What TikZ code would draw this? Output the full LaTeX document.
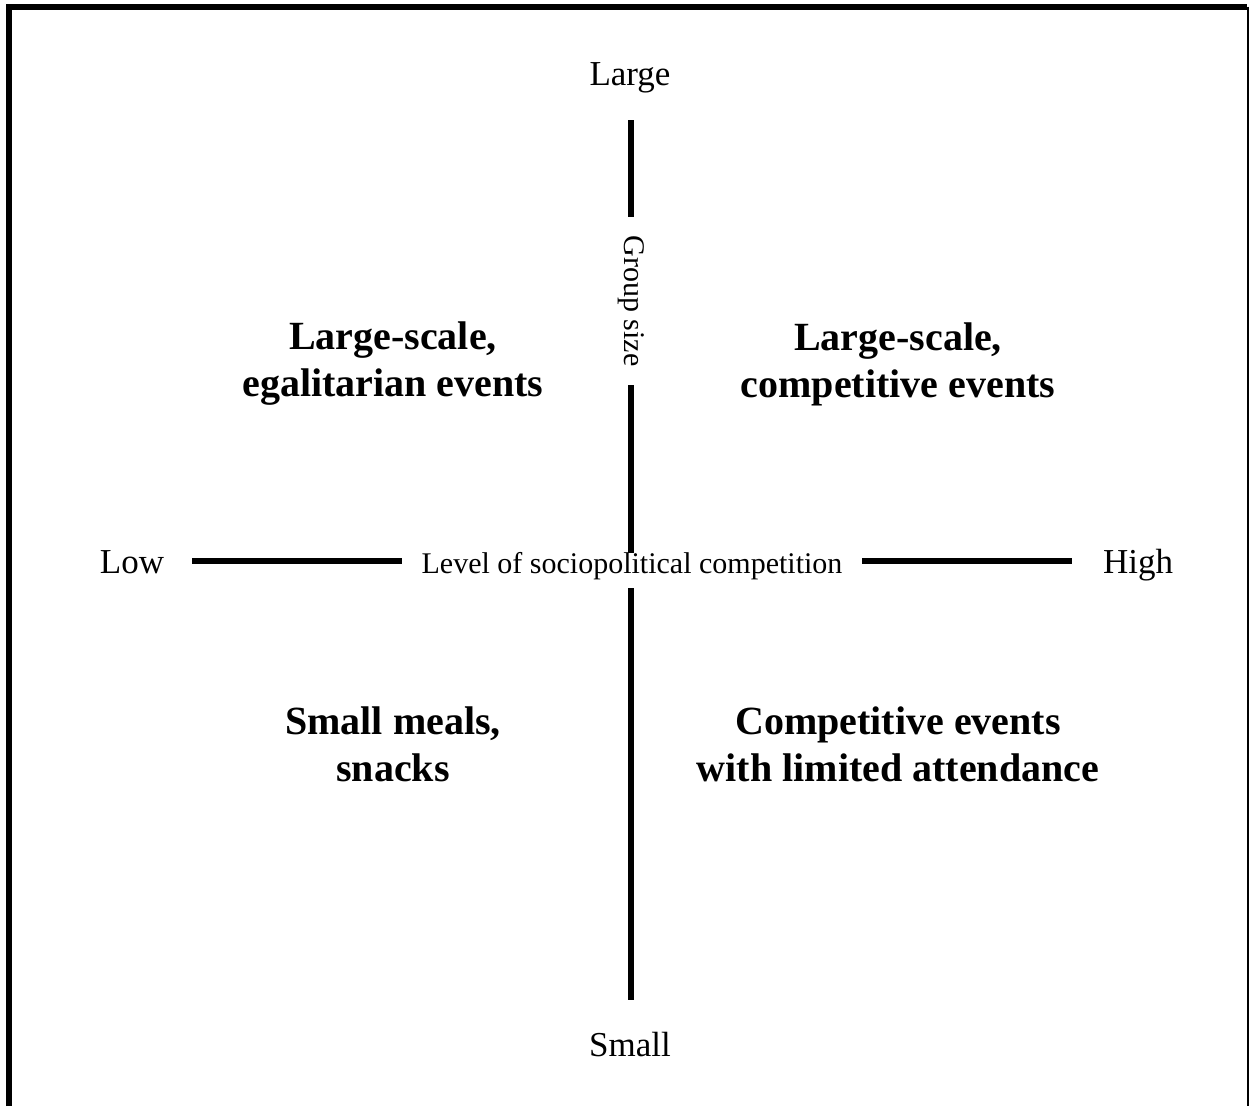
\documentclass[tikz,border=0pt]{standalone}
\usepackage{fontspec}
\setmainfont{Liberation Serif}
\begin{document}
\begin{tikzpicture}[x=1pt,y=-1pt,
  axisline/.style={line width=6pt},
  axislabel/.style={font=\fontsize{30}{34}\selectfont, inner sep=0pt},
  endlabel/.style={font=\fontsize{35}{40}\selectfont, inner sep=0pt},
  quadrant/.style={font=\fontsize{40}{47}\selectfont\bfseries, align=center, inner sep=0pt}]
  \useasboundingbox (0,0) rectangle (1249,1106);
  % frame: heavy left and top edges, hairline right edge
  \draw[line width=6pt] (9,1106) -- (9,6.5) -- (1247,6.5);
  \draw[line width=2pt] (1247.5,6.5) -- (1247.5,1106);

  % axis end points
  \coordinate (vtop) at (631,120);
  \coordinate (vbot) at (631,1000);
  \coordinate (hleft) at (192,561);
  \coordinate (hright) at (1072,561);

  \draw[axisline] (vtop) -- (vbot);
  \draw[axisline] (hleft) -- (hright);

  % axis titles on white patches breaking the lines
  \node[axislabel, fill=white, rotate=-90, inner xsep=19pt, inner ysep=2pt] (gsize) at (631,301) {Group size};
  \node[axislabel, fill=white, anchor=base, text height=20pt, text depth=15pt, inner xsep=20pt] (comp) at (632,573) {Level of sociopolitical competition};

  % axis end labels
  \node[endlabel] (large) at (630,78) {Large};
  \node[endlabel] (small) at (630,1045) {Small};
  \node[endlabel, anchor=base] (low) at (132,573) {Low};
  \node[endlabel, anchor=base] (high) at (1138,573) {High};

  % quadrant captions
  \node[quadrant] (tl) at (393,364) {Large-scale,\\egalitarian events};
  \node[quadrant] (tr) at (898,364) {Large-scale,\\competitive events};
  \node[quadrant] (bl) at (393,744) {Small meals,\\snacks};
  \node[quadrant] (br) at (898,744) {Competitive events\\with limited attendance};
\end{tikzpicture}
\end{document}
